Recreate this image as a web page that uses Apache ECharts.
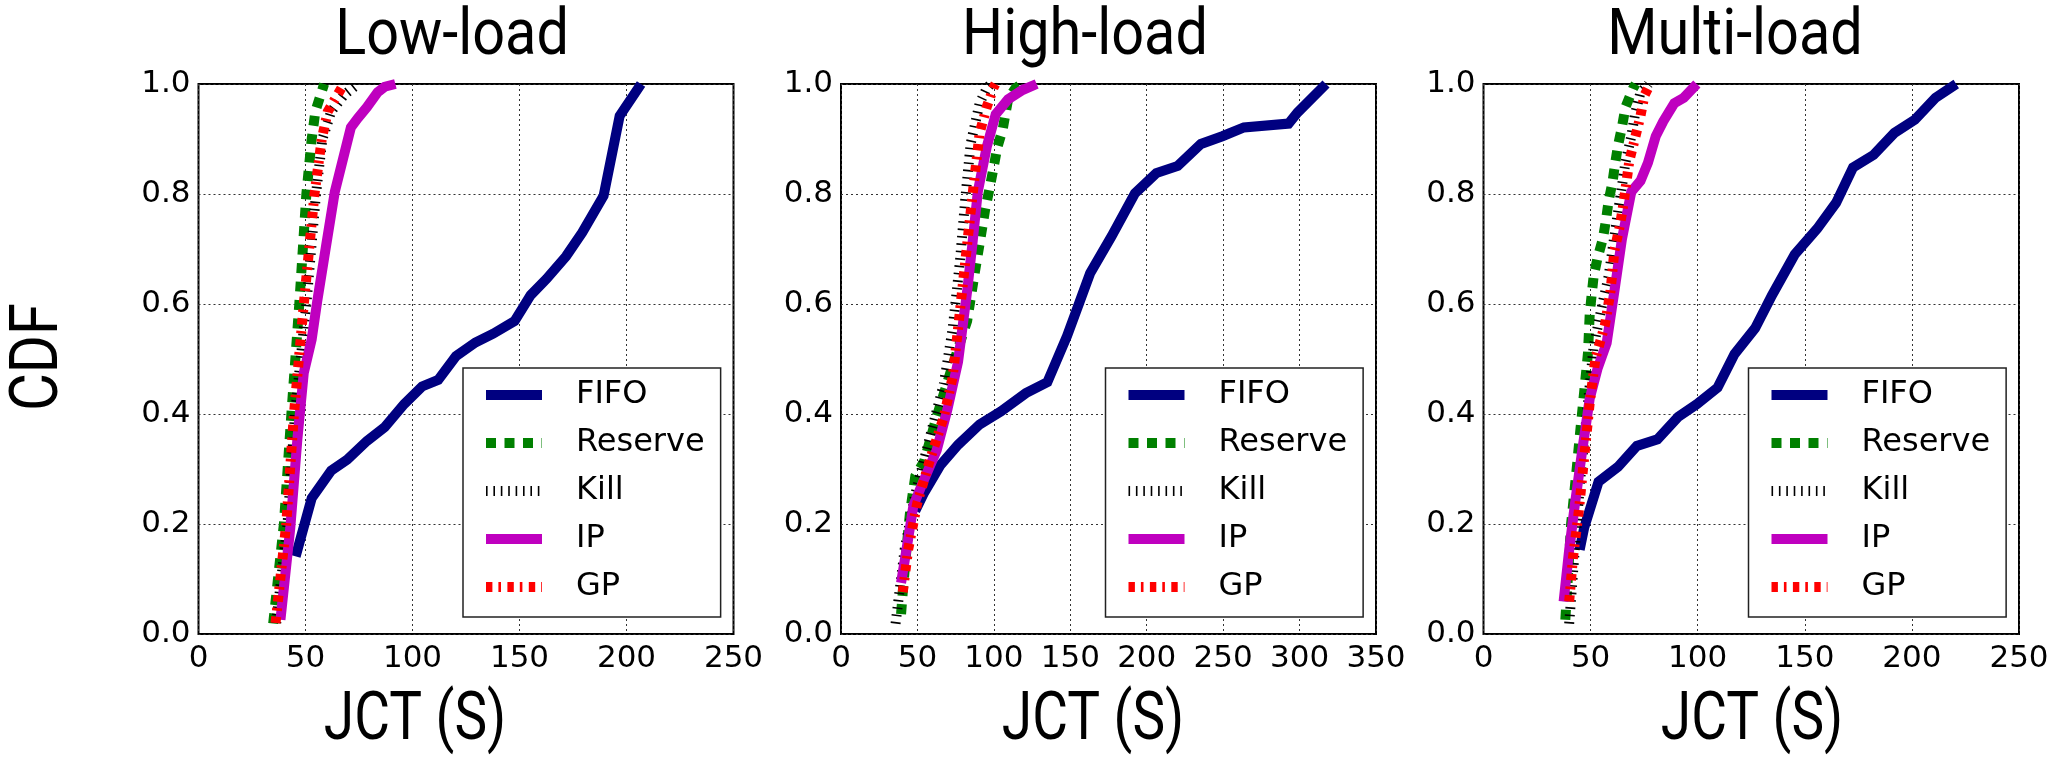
<!DOCTYPE html>
<html><head><meta charset="utf-8">
<script src="https://cdn.jsdelivr.net/npm/echarts@6/dist/echarts.min.js"></script>
<style>html,body{margin:0;padding:0;background:#fff}#c{width:2055px;height:759px}</style>
</head><body><div id="c"></div>
<script>
// ---------- data ----------
const panelTitles = ['Low-load', 'High-load', 'Multi-load'];
const seriesNames = ['FIFO', 'Reserve', 'Kill', 'IP', 'GP'];
const xAxisMax = [250, 350, 250];
const xTickStep = 50;
const yTickLabels = ['0.0', '0.2', '0.4', '0.6', '0.8', '1.0'];
const xLabel = 'JCT (S)';
const yLabel = 'CDF';

// Low-load  [JCT, CDF]
const lowFIFO = [[45.4,0.141],[52.9,0.247],[62.0,0.297],[69.5,0.317],[78.7,0.351],[87.0,0.376],[96.1,0.418],[104.5,0.450],[112.0,0.462],[120.3,0.505],[129.4,0.530],[137.7,0.546],[147.7,0.569],[155.2,0.616],[162.7,0.646],[171.8,0.687],[179.3,0.730],[189.3,0.797],[196.8,0.942],[206.8,1.0]];
const lowReserve = [[34.9,0.019],[39.9,0.2],[43.4,0.4],[47.1,0.6],[50.4,0.8],[52.9,0.9],[54.6,0.95],[58.7,1.0]];
const lowKill = [[36.3,0.02],[41.6,0.2],[45.1,0.4],[50.4,0.6],[54.9,0.8],[57.9,0.9],[62.0,0.95],[68.0,0.98],[74.5,1.0]];
const lowIP = [[38.3,0.026],[42.9,0.193],[46.2,0.354],[49.2,0.475],[52.9,0.536],[55.4,0.603],[59.5,0.703],[63.7,0.804],[71.2,0.921],[74.5,0.938],[78.7,0.958],[83.7,0.985],[87.0,0.995],[92.0,1.0]];
const lowGP = [[36.0,0.02],[41.0,0.2],[44.6,0.4],[49.2,0.6],[54.2,0.8],[57.6,0.9],[60.4,0.95],[67.9,1.0]];

// High-load
const highFIFO = [[48.6,0.224],[54.4,0.257],[65.0,0.307],[76.6,0.344],[90.7,0.381],[104.7,0.405],[121.0,0.438],[135.0,0.458],[147.9,0.542],[163.0,0.656],[177.0,0.723],[192.3,0.801],[206.3,0.838],[220.3,0.851],[235.5,0.891],[249.5,0.905],[263.6,0.921],[292.8,0.928],[298.6,0.948],[317.3,1.0]];
const highReserve = [[39.3,0.036],[40.5,0.08],[42.8,0.153],[45.1,0.22],[48.6,0.287],[54.4,0.314],[62.6,0.395],[73.1,0.489],[82.5,0.569],[87.1,0.650],[90.7,0.710],[94.2,0.770],[97.7,0.817],[100.0,0.851],[102.3,0.885],[105.8,0.918],[109.3,0.972],[114.0,0.992],[118.0,1.0]];
const highKill = [[35.7,0.019],[41.6,0.153],[48.6,0.254],[60.3,0.381],[67.3,0.455],[73.1,0.556],[77.8,0.677],[81.3,0.791],[84.8,0.891],[90.7,0.965],[95.3,0.992],[98.0,1.0]];
const highIP = [[39.3,0.093],[42.8,0.153],[47.4,0.234],[53.3,0.274],[62.6,0.334],[69.6,0.408],[76.6,0.495],[82.5,0.623],[86.0,0.710],[89.5,0.804],[95.3,0.885],[101.2,0.945],[109.3,0.972],[118.7,0.989],[128.0,1.0]];
const highGP = [[40.4,0.076],[43.9,0.153],[49.8,0.237],[57.9,0.314],[67.3,0.395],[73.1,0.468],[76.6,0.556],[81.3,0.677],[86.0,0.797],[90.7,0.911],[95.3,0.958],[100.0,0.995],[101.0,1.0]];

// Multi-load
const multiFIFO = [[44.9,0.153],[47.0,0.193],[53.7,0.277],[62.8,0.304],[71.6,0.342],[81.2,0.354],[90.9,0.395],[99.6,0.418],[109.3,0.448],[117.2,0.509],[126.8,0.556],[134.7,0.616],[145.3,0.690],[155.8,0.737],[164.6,0.784],[172.5,0.848],[182.1,0.871],[191.8,0.911],[201.4,0.935],[211.0,0.975],[220.7,1.0]];
const multiReserve = [[38.2,0.026],[40.9,0.2],[43.5,0.30],[45.3,0.374],[47.0,0.44],[48.8,0.512],[49.6,0.583],[51.4,0.65],[53.2,0.683],[55.8,0.72],[57.2,0.753],[58.4,0.787],[60.2,0.821],[61.4,0.854],[62.8,0.888],[64.6,0.921],[66.3,0.958],[69.8,0.992],[71.0,1.0]];
const multiKill = [[40.0,0.019],[42.6,0.153],[45.3,0.287],[48.8,0.421],[51.4,0.522],[54.9,0.589],[58.4,0.65],[61.1,0.723],[63.7,0.79],[66.3,0.858],[69.0,0.905],[70.7,0.945],[73.3,0.985],[76.0,0.995],[77.0,1.0]];
const multiIP = [[37.4,0.059],[40.0,0.153],[42.6,0.234],[46.1,0.334],[49.6,0.428],[53.2,0.482],[57.5,0.529],[61.1,0.623],[64.6,0.717],[69.0,0.804],[73.3,0.824],[76.8,0.857],[80.4,0.905],[83.9,0.932],[89.1,0.965],[93.5,0.975],[99.6,1.0]];
const multiGP = [[40.0,0.059],[41.8,0.14],[44.4,0.22],[47.0,0.321],[49.6,0.421],[52.3,0.502],[56.7,0.562],[59.3,0.623],[61.1,0.697],[63.7,0.743],[65.4,0.784],[68.1,0.861],[70.7,0.901],[73.3,0.942],[75.1,0.979],[77.7,0.999]];

const panelData = [
  [lowFIFO, lowReserve, lowKill, lowIP, lowGP],
  [highFIFO, highReserve, highKill, highIP, highGP],
  [multiFIFO, multiReserve, multiKill, multiIP, multiGP]
];

// ---------- styles / layout ----------
const LW = 10;
const seriesStyles = [
  {color: '#000080', type: 'solid'},
  {color: '#008000', type: [10, 8.5]},
  {color: '#000000', type: [1.6, 5.8]},
  {color: '#BF00BF', type: 'solid'},
  {color: '#FF0000', type: [6.4, 6, 2.6, 6.4]}
];
const gridBoxes = [
  {left: 198.5, top: 84, width: 535, height: 550},
  {left: 841, top: 84, width: 535, height: 550},
  {left: 1483.5, top: 84, width: 535.5, height: 550}
];
const titleX = [452, 1085, 1735];
const xLabelX = [415, 1093, 1752];
const tickFont = 'DejaVu Sans';
const bigFont = 'Roboto';

const grid = [], xAxis = [], yAxis = [], series = [], legend = [], graphic = [];
gridBoxes.forEach((g, p) => {
  grid.push(Object.assign({show: true, borderColor: '#000', borderWidth: 2, backgroundColor: 'transparent', containLabel: false}, g));
  xAxis.push({
    type: 'value', gridIndex: p, min: 0, max: xAxisMax[p], interval: xTickStep,
    axisLine: {show: false}, axisTick: {show: false},
    axisLabel: {color: '#000', fontFamily: tickFont, fontSize: 31, margin: 9},
    splitLine: {show: true, lineStyle: {color: '#333', width: 1, type: [2, 3]}}
  });
  yAxis.push({
    type: 'value', gridIndex: p, min: 0, max: 1, interval: 0.2,
    axisLine: {show: false}, axisTick: {show: false},
    axisLabel: {color: '#000', fontFamily: tickFont, fontSize: 31, margin: 8,
      formatter: v => yTickLabels[Math.round(v / 0.2)]},
    splitLine: {show: true, lineStyle: {color: '#333', width: 1, type: [2, 3]}}
  });
  panelData[p].forEach((d, i) => {
    series.push({
      name: seriesNames[i], type: 'line', xAxisIndex: p, yAxisIndex: p,
      data: d, symbol: 'none', showSymbol: false, smooth: false, animation: false,
      color: seriesStyles[i].color,
      lineStyle: {color: seriesStyles[i].color, width: LW, type: seriesStyles[i].type, cap: 'butt', join: 'miter'}
    });
  });
  legend.push({
    orient: 'vertical', left: g.left + g.width - 16.5 - 254, top: 368,
    data: seriesNames, selectedMode: false,
    backgroundColor: '#fff', borderColor: '#222', borderWidth: 1.5, borderRadius: 0,
    padding: [11, 16, 14, 18], itemGap: 16, itemWidth: 56, itemHeight: 14,
    lineStyle: {width: LW},
    itemStyle: {opacity: 0},
    textStyle: {color: '#000', fontFamily: tickFont, fontSize: 32, lineHeight: 32, padding: [0, 0, 0, 29]}
  });
  graphic.push({
    type: 'text', x: titleX[p], y: 38, scaleX: 0.9,
    style: {text: panelTitles[p], font: '64px ' + bigFont, fill: '#000', textAlign: 'center', textVerticalAlign: 'middle'}
  });
  graphic.push({
    type: 'text', x: xLabelX[p], y: 722, scaleX: 0.82,
    style: {text: xLabel, font: '67px ' + bigFont, fill: '#000', textAlign: 'center', textVerticalAlign: 'middle'}
  });
});
graphic.push({
  type: 'text', x: 40, y: 357, rotation: Math.PI / 2, scaleX: 0.88,
  style: {text: yLabel, font: '66px ' + bigFont, fill: '#000', textAlign: 'center', textVerticalAlign: 'middle'}
});

const chart = echarts.init(document.getElementById('c'), null, {renderer: 'canvas'});
chart.setOption({animation: false, backgroundColor: '#fff', grid, xAxis, yAxis, series, legend, graphic});
</script></body></html>
